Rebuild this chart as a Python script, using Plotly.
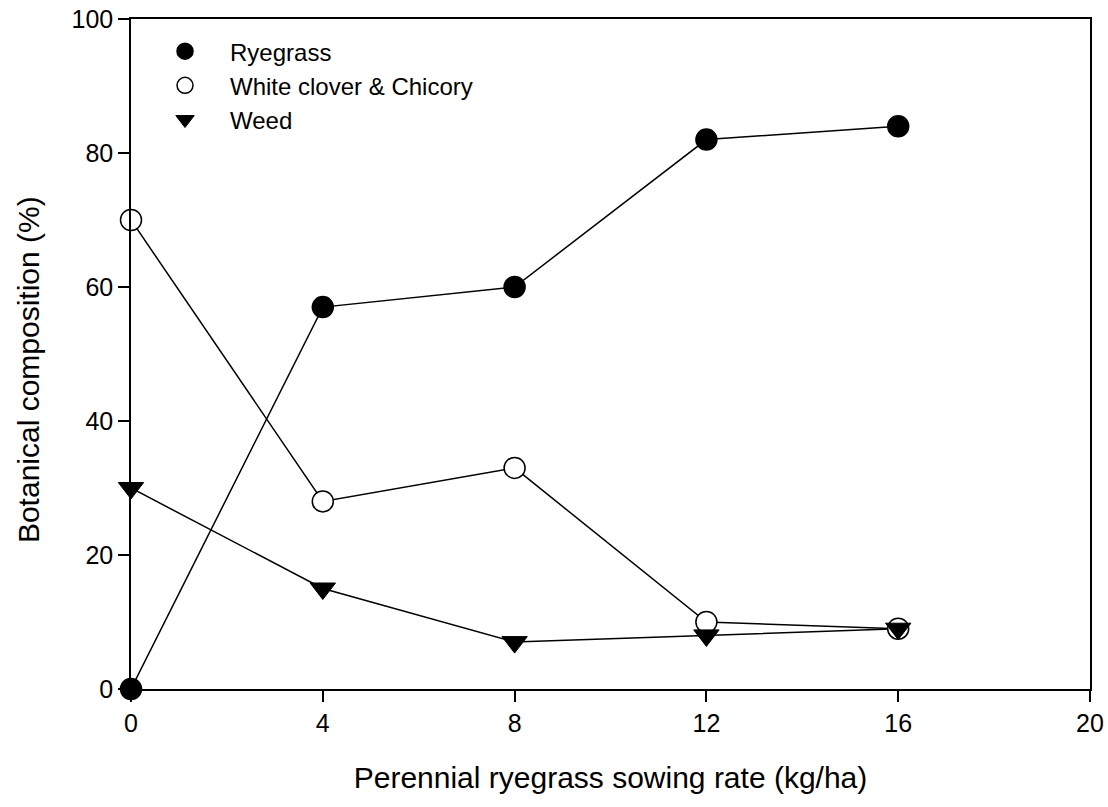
import plotly.graph_objects as go

sowing_rate = [0, 4, 8, 12, 16]
ryegrass = [0, 57, 60, 82, 84]
clover_chicory = [70, 28, 33, 10, 9]
weed = [30, 15, 7, 8, 9]

x_ticks = [0, 4, 8, 12, 16, 20]
y_ticks = [0, 20, 40, 60, 80, 100]

FONT = "Liberation Sans, Arial, sans-serif"

series = [
    ("Ryegrass", ryegrass, dict(symbol="circle", color="black", size=21,
                                line=dict(color="black", width=1.5))),
    ("White clover & Chicory", clover_chicory, dict(symbol="circle", color="white", size=21,
                                                    line=dict(color="black", width=1.5))),
    ("Weed", weed, dict(symbol="triangle-down", color="black", size=22,
                        line=dict(color="black", width=1))),
]

fig = go.Figure()
for name, vals, _ in series:
    fig.add_trace(go.Scatter(x=sowing_rate, y=vals, mode="lines",
                             line=dict(color="black", width=1.5),
                             showlegend=False, hoverinfo="skip"))
for name, vals, mk in series:
    fig.add_trace(go.Scatter(x=sowing_rate, y=vals, mode="markers", name=name,
                             marker=mk, cliponaxis=False))

axis_common = dict(
    showline=True, linecolor="black", linewidth=1.5, mirror=True,
    ticks="outside", ticklen=11, tickwidth=1.5, tickcolor="black",
    showgrid=False, zeroline=False, ticklabeloverflow="allow", automargin=False,
    tickfont=dict(family=FONT, size=25, color="black"),
)

fig.update_layout(
    width=1108, height=807,
    margin=dict(l=131, r=18, t=19, b=118),
    paper_bgcolor="white", plot_bgcolor="white",
    font=dict(family=FONT, color="black"),
    xaxis=dict(range=[0, 20], tickvals=x_ticks, ticktext=[str(v) for v in x_ticks],
               title=dict(text="Perennial ryegrass sowing rate (kg/ha)",
                          font=dict(family=FONT, size=30), standoff=31),
               **axis_common),
    yaxis=dict(range=[0, 100], tickvals=y_ticks, ticktext=[str(v) for v in y_ticks],
               **axis_common),
    legend=dict(x=0.0094, y=0.985, xanchor="left", yanchor="top",
                bgcolor="rgba(0,0,0,0)", borderwidth=0,
                font=dict(family=FONT, size=24, color="black"),
                itemwidth=80, tracegroupgap=0),
    showlegend=True,
    annotations=[dict(text="Botanical composition (%)", textangle=-90,
                      xref="paper", yref="paper", x=-0.1074, y=0.476,
                      xanchor="center", yanchor="middle", showarrow=False,
                      font=dict(family=FONT, size=30, color="black"))],
)

fig.write_html("out.html", config={"displayModeBar": False},
               post_script="document.body.style.margin='0';document.body.style.overflow='hidden';")
